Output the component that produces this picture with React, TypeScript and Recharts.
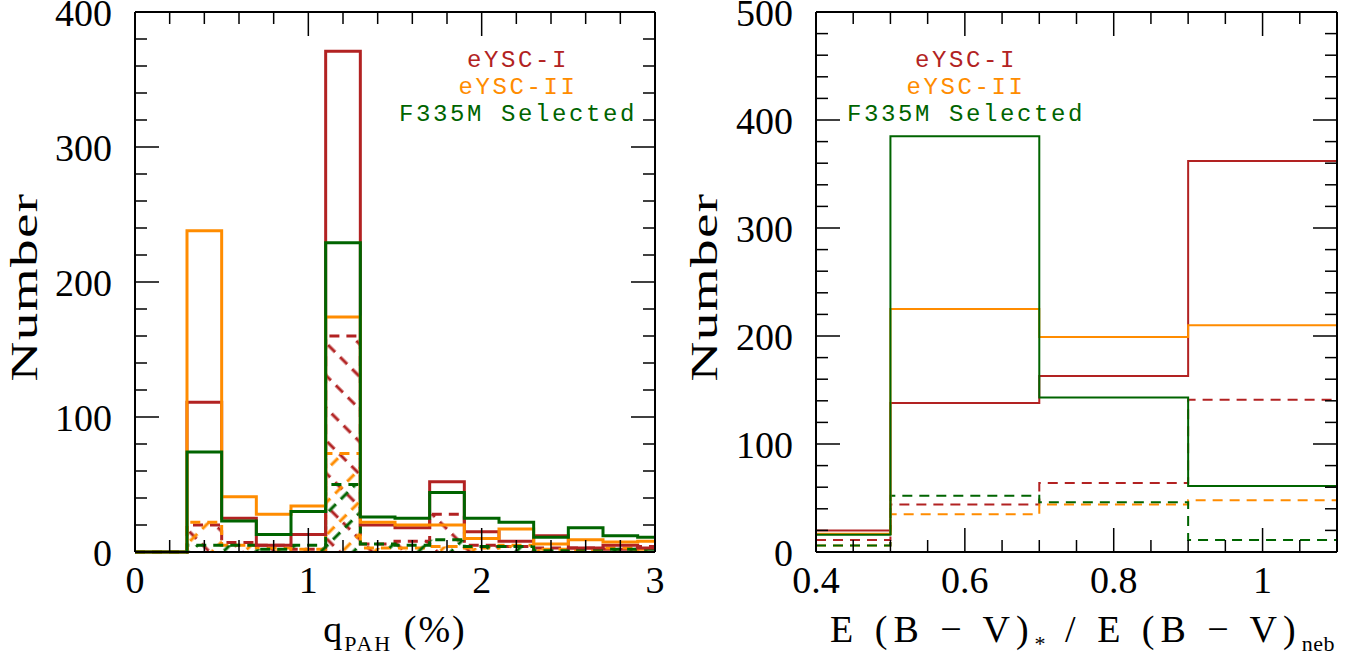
import React from "react";
import { ComposedChart, Line, Area, XAxis, YAxis, Legend } from "recharts";

// left panel: q_PAH histograms (bin width 0.2, left edges)
const qBinStarts = [0.3, 0.5, 0.7, 0.9, 1.1, 1.3, 1.5, 1.7, 1.9, 2.1, 2.3, 2.5, 2.7, 2.9];
const qRed = [111, 25, 5, 13, 371, 20, 18, 52, 15, 8, 12, 3, 5, 3];
const qOrange = [238, 41, 28, 34, 174, 22, 20, 20, 10, 17, 6, 9, 7.5, 8];
const qGreen = [74, 23, 13, 30, 229, 26, 25, 44, 25, 22, 11, 18, 12, 11];
const qRedDashed = [20, 7, 5, 2, 160, 6, 8, 28, 5, 4, 3, 3, 2, 4];
const qOrangeDashed = [22, 5, 3, 2, 73, 3, 3, 4, 3, 5, 2, 1, 3, 2];
const qGreenDashed = [5, 5, 2, 5, 50, 6, 5, 9, 4, 4, 1, 2, 2, 2];

// right panel: E(B-V)* / E(B-V)neb histograms
const ebvBinStarts = [0.4, 0.5, 0.7, 0.9];
const ebvRed = [20, 138, 163, 362];
const ebvOrange = [17, 225, 199, 210];
const ebvGreen = [16, 385, 143, 61];
const ebvRedDashed = [11, 44, 64, 141];
const ebvOrangeDashed = [6, 35, 44, 48];
const ebvGreenDashed = [6, 52, 46, 11];

// ticks
const qTicks = [0, 0.2, 0.4, 0.6, 0.8, 1, 1.2, 1.4, 1.6, 1.8, 2, 2.2, 2.4, 2.6, 2.8, 3];
const qLabels = [0, 1, 2, 3];
const ebvTicks = [0.4, 0.45, 0.5, 0.55, 0.6, 0.65, 0.7, 0.75, 0.8, 0.85, 0.9, 0.95, 1, 1.05, 1.1];
const ebvLabels = [0.6, 0.8, 1];
const ebvTickLabels = [0.4, 0.6, 0.8, 1];
const countTicksLeft = [0, 20, 40, 60, 80, 100, 120, 140, 160, 180, 200, 220, 240, 260, 280, 300, 320, 340, 360, 380, 400];
const countTicksRight = [0, 20, 40, 60, 80, 100, 120, 140, 160, 180, 200, 220, 240, 260, 280, 300, 320, 340, 360, 380, 400, 420, 440, 460, 480, 500];
const countLabels = [0, 100, 200, 300, 400, 500];

const legendNames = ["eYSC-I", "eYSC-II", "F335M Selected"];

const RED = "#B22222";
const ORANGE = "#FF8C00";
const GREEN = "#006400";
const SERIF = '"Liberation Serif", "DejaVu Serif", serif';
const MONO = '"Liberation Mono", "DejaVu Sans Mono", monospace';

const near = (list: number[], v: number) => list.some((m) => Math.abs(m - v) < 1e-6);

const qRows = [
  { x: 0, red: 0, orange: 0, green: 0, redD: 0, orangeD: 0, greenD: 0 },
  ...qBinStarts.map((x, i) => ({
    x,
    red: qRed[i],
    orange: qOrange[i],
    green: qGreen[i],
    redD: qRedDashed[i],
    orangeD: qOrangeDashed[i],
    greenD: qGreenDashed[i],
  })),
];
qRows.push({ ...qRows[qRows.length - 1], x: 3 });

const ebvRows = ebvBinStarts.map((x, i) => ({
  x,
  red: ebvRed[i],
  orange: ebvOrange[i],
  green: ebvGreen[i],
  redD: ebvRedDashed[i],
  orangeD: ebvOrangeDashed[i],
  greenD: ebvGreenDashed[i],
}));
ebvRows.push({ ...ebvRows[ebvRows.length - 1], x: 1.1 });
ebvRows.push({ x: 1.1, red: 0, orange: 0, green: 0, redD: 0, orangeD: 0, greenD: 0 });

const tickLine = (x1: number, y1: number, x2: number, y2: number) => (
  <line x1={x1} y1={y1} x2={x2} y2={y2} stroke="#000" strokeWidth={1.5} />
);

const bottomTick = (major: number[], labels: number[]) => (p: any) => {
  const v = p.payload.value;
  const big = near(major, v);
  return (
    <g>
      {tickLine(p.x, p.y, p.x, p.y - (big ? 24 : 12))}
      {near(labels, v) && (
        <text x={p.x} y={p.y + 41} textAnchor="middle" fontFamily={SERIF} fontSize={38} fill="#000">
          {String(v)}
        </text>
      )}
    </g>
  );
};

const topTick = (major: number[]) => (p: any) => {
  const big = near(major, p.payload.value);
  return <g>{tickLine(p.x, p.y, p.x, p.y + (big ? 24 : 12))}</g>;
};

const leftTick = (p: any) => {
  const v = p.payload.value;
  const big = near(countLabels, v);
  return (
    <g>
      {tickLine(p.x, p.y, p.x + (big ? 24 : 12), p.y)}
      {big && (
        <text x={p.x - 23} y={p.y + 14} textAnchor="end" fontFamily={SERIF} fontSize={38} fill="#000">
          {String(v)}
        </text>
      )}
    </g>
  );
};

const rightTick = (p: any) => {
  const big = near(countLabels, p.payload.value);
  return <g>{tickLine(p.x, p.y, p.x - (big ? 24 : 12), p.y)}</g>;
};

const legendContent = () => (
  <svg width={320} height={90}>
    {legendNames.map((name, i) => (
      <text
        key={name}
        x={160}
        y={27 + i * 27}
        textAnchor="middle"
        fontFamily={MONO}
        fontSize={24}
        letterSpacing={2.6}
        fill={[RED, ORANGE, GREEN][i]}
      >
        {name}
      </text>
    ))}
  </svg>
);

const yTitle = (props: any) => {
  const vb = props.viewBox;
  const x = vb.x + 37;
  const y = vb.y + vb.height / 2 + 5;
  return (
    <text
      transform={`translate(${x}, ${y}) rotate(-90) scale(1.45, 1)`}
      x={0}
      y={0}
      textAnchor="middle"
      fontFamily={SERIF}
      fontSize={38}
      letterSpacing={1}
      fill="#000"
    >
      Number
    </text>
  );
};

const qTitle = (props: any) => {
  const vb = props.viewBox;
  return (
    <text x={vb.x + vb.width / 2} y={vb.y + 90} textAnchor="middle" fontFamily={SERIF} fontSize={38} letterSpacing={2} fill="#000">
      <tspan>q</tspan>
      <tspan dy={9} fontSize={22}>PAH</tspan>
      <tspan dy={-9}> (%)</tspan>
    </text>
  );
};

const ebvTitle = (props: any) => {
  const vb = props.viewBox;
  return (
    <text x={vb.x + vb.width / 2 + 6} y={vb.y + 90} textAnchor="middle" fontFamily={SERIF} fontSize={38} fill="#000">
      <tspan letterSpacing={6}>E (B − V)</tspan>
      <tspan dy={9} fontSize={22} letterSpacing={4}>*</tspan>
      <tspan dy={-9} letterSpacing={6}> / E (B − V)</tspan>
      <tspan dy={9} fontSize={22} letterSpacing={0.5}>neb</tspan>
    </text>
  );
};

const axisLine = { stroke: "#000", strokeWidth: 2 };

function HistPanel(props: {
  rows: any[];
  width: number;
  marginRight: number;
  xDomain: [number, number];
  xTicks: number[];
  xMajor: number[];
  xLabels: number[];
  yDomain: [number, number];
  yTicks: number[];
  hatched: boolean;
  sw: number;
  legendLeft: number;
  xTitle: (p: any) => any;
}) {
  const { rows, hatched, sw } = props;
  const dash = "10 7";
  return (
    <ComposedChart
      width={props.width}
      height={659}
      data={rows}
      margin={{ top: 11, right: props.marginRight, bottom: 0, left: 0 }}
    >
      <defs>
        <pattern id="hRed" patternUnits="userSpaceOnUse" width={23} height={17} patternTransform="rotate(-45)">
          <line x1={11} y1={0} x2={11} y2={17} stroke={RED} strokeWidth={3} strokeDasharray="10 7" />
        </pattern>
        <pattern id="hOrange" patternUnits="userSpaceOnUse" width={23} height={17} patternTransform="rotate(45)">
          <line x1={11} y1={0} x2={11} y2={17} stroke={ORANGE} strokeWidth={3} strokeDasharray="10 7" />
        </pattern>
        <pattern id="hGreen" patternUnits="userSpaceOnUse" width={23} height={17} patternTransform="rotate(45) translate(8 0)">
          <line x1={11} y1={0} x2={11} y2={17} stroke={GREEN} strokeWidth={3} strokeDasharray="10 7" />
        </pattern>
      </defs>
      <XAxis
        xAxisId="b"
        dataKey="x"
        type="number"
        orientation="bottom"
        domain={props.xDomain}
        ticks={props.xTicks}
        interval={0}
        height={107}
        tickSize={0}
        tickMargin={0}
        tickLine={false}
        axisLine={axisLine}
        tick={bottomTick(props.xMajor, props.xLabels)}
        label={{ content: props.xTitle }}
      />
      <XAxis
        xAxisId="t"
        dataKey="x"
        type="number"
        orientation="top"
        domain={props.xDomain}
        allowDataOverflow
        ticks={props.xTicks}
        interval={0}
        height={1}
        tickSize={0}
        tickMargin={0}
        tickLine={false}
        axisLine={axisLine}
        tick={topTick(props.xMajor)}
      />
      <YAxis
        yAxisId="l"
        type="number"
        orientation="left"
        domain={props.yDomain}
        ticks={props.yTicks}
        interval={0}
        width={props.width === 680 ? 135 : 136}
        tickSize={0}
        tickMargin={0}
        tickLine={false}
        axisLine={axisLine}
        tick={leftTick}
        label={{ content: yTitle }}
      />
      <YAxis
        yAxisId="r"
        type="number"
        orientation="right"
        domain={props.yDomain}
        allowDataOverflow
        ticks={props.yTicks}
        interval={0}
        width={1}
        tickSize={0}
        tickMargin={0}
        tickLine={false}
        axisLine={axisLine}
        tick={rightTick}
      />
      <Area xAxisId="b" yAxisId="l" type="stepAfter" dataKey="redD" stroke={RED} strokeWidth={sw} strokeDasharray={dash} fill={hatched ? "url(#hRed)" : "none"} fillOpacity={1} isAnimationActive={false} />
      <Area xAxisId="b" yAxisId="l" type="stepAfter" dataKey="orangeD" stroke={ORANGE} strokeWidth={sw} strokeDasharray={dash} fill={hatched ? "url(#hOrange)" : "none"} fillOpacity={1} isAnimationActive={false} />
      <Area xAxisId="b" yAxisId="l" type="stepAfter" dataKey="greenD" stroke={GREEN} strokeWidth={sw} strokeDasharray={dash} fill={hatched ? "url(#hGreen)" : "none"} fillOpacity={1} isAnimationActive={false} />
      <Line xAxisId="b" yAxisId="l" type="stepAfter" dataKey="red" stroke={RED} strokeWidth={sw} dot={false} isAnimationActive={false} />
      <Line xAxisId="b" yAxisId="l" type="stepAfter" dataKey="orange" stroke={ORANGE} strokeWidth={sw} dot={false} isAnimationActive={false} />
      <Line xAxisId="b" yAxisId="l" type="stepAfter" dataKey="green" stroke={GREEN} strokeWidth={sw} dot={false} isAnimationActive={false} />
      <Legend
        layout="vertical"
        align="center"
        verticalAlign="middle"
        content={legendContent}
        wrapperStyle={{ left: props.legendLeft, top: 40, width: 320, height: 90 }}
      />
    </ComposedChart>
  );
}

export default function App() {
  return (
    <div style={{ position: "absolute", left: 0, top: 0, width: 1354, height: 659, background: "#fff" }}>
      <div style={{ position: "absolute", left: 0, top: 0 }}>
        <HistPanel
          rows={qRows}
          width={680}
          marginRight={24}
          xDomain={[0, 3]}
          xTicks={qTicks}
          xMajor={qLabels}
          xLabels={qLabels}
          yDomain={[0, 400]}
          yTicks={countTicksLeft}
          hatched={true}
          sw={3}
          legendLeft={358}
          xTitle={qTitle}
        />
      </div>
      <div style={{ position: "absolute", left: 680, top: 0 }}>
        <HistPanel
          rows={ebvRows}
          width={674}
          marginRight={16}
          xDomain={[0.4, 1.1]}
          xTicks={ebvTicks}
          xMajor={ebvLabels}
          xLabels={ebvTickLabels}
          yDomain={[0, 500]}
          yTicks={countTicksRight}
          hatched={false}
          sw={2}
          legendLeft={126}
          xTitle={ebvTitle}
        />
      </div>
    </div>
  );
}
